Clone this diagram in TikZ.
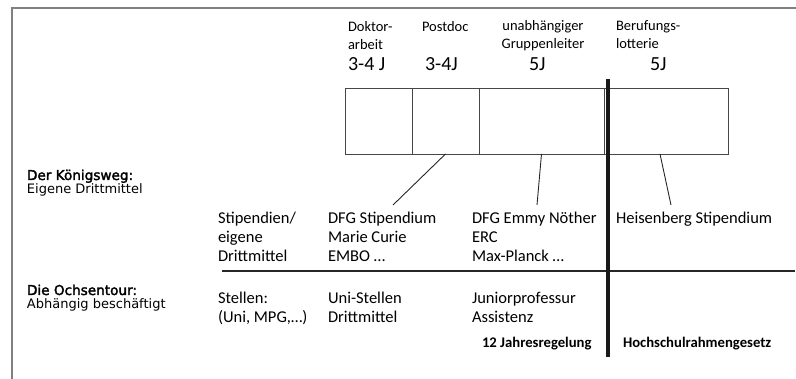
\documentclass[tikz,border=0pt]{standalone}
\usepackage{fontspec}
\setmainfont{Carlito}
\newfontfamily\verdfont{DejaVu Sans}
\newfontfamily\verdbfont{DejaVu Sans}[FakeBold=2.2]
\usetikzlibrary{positioning,calc}
\definecolor{framegray}{RGB}{128,128,128}
\definecolor{cellgray}{RGB}{70,70,70}

\begin{document}
\begin{tikzpicture}[x=1pt, y=-1pt, inner sep=0pt, outer sep=0pt,
cell/.style={draw=cellgray, line width=0.8pt, minimum height=66pt, anchor=north west},
head/.style={font=\fontsize{14.5}{18}\selectfont, align=left, anchor=base west},
dur/.style={font=\fontsize{20}{22}\selectfont, anchor=base west},
sidehead/.style={font=\verdbfont\fontsize{13.6}{14}\selectfont, anchor=base west},
side/.style={font=\verdfont\fontsize{13}{14}\selectfont, anchor=base west},
body/.style={font=\fontsize{16.5}{19}\selectfont, align=left, anchor=base west},
law/.style={font=\bfseries\fontsize{14.7}{16}\selectfont, anchor=base west},
link/.style={draw=black!85, line width=0.9pt}]
\useasboundingbox (0,0) rectangle (796,379);
% frame of the slide
\coordinate (fTR) at (796,8.5);
\coordinate (fTL) at (12,8.5);
\coordinate (fBL) at (12,379);
\draw[framegray, line width=2pt] (fTR) -- (fTL) -- (fBL);
% career phases (base = last line)
\node[head] (hDok) at (348,50) {Doktor-\\arbeit};
\node[head] (hPost) at (422,32) {Postdoc};
\node[head, align=center, anchor=base] (hGrp) at (543,49) {unabhängiger\\Gruppenleiter};
\node[head] (hBer) at (616,49) {Berufungs-\\lotterie};
\node[dur] (dDok) at (348,71) {3-4 J};
\node[dur] (dPost) at (425,71) {3-4J};
\node[dur] (dGrp) at (529,71) {5J};
\node[dur] (dBer) at (650,71) {5J};
\node[cell, minimum width=67pt] (cDok) at (345,88) {};
\node[cell, minimum width=67pt, right=0pt of cDok] (cPost) {};
\node[cell, minimum width=125pt, right=0pt of cPost] (cGrp) {};
\node[cell, minimum width=124pt, right=0pt of cGrp] (cBer) {};
% two ways
\node[sidehead] (kWeg) at (27,180) {Der Königsweg:};
\node[side] (kWegSub) at ($(kWeg.base west)+(0,14)$) {Eigene Drittmittel};
\node[sidehead] (oTour) at (27,295) {Die Ochsentour:};
\node[side] (oTourSub) at ($(oTour.base west)+(0,14)$) {Abhängig beschäftigt};
\node[body] (sStip) at (218,262) {Stipendien/\\eigene\\Drittmittel};
\node[body] (sDFG) at (328,262) {DFG Stipendium\\Marie Curie\\EMBO …};
\node[body] (sEmmy) at (472,262) {DFG Emmy Nöther\\ERC\\Max-Planck …};
\node[body] (sHeis) at (616,224) {Heisenberg Stipendium};
\node[body] (aStel) at (218,323) {Stellen:\\(Uni, MPG,…)};
\node[body] (aUni) at (328,323) {Uni-Stellen\\Drittmittel};
\node[body] (aJun) at (472,323) {Juniorprofessur\\Assistenz};
\node[law] (lZwoelf) at (482,348) {12 Jahresregelung};
\node[law] (lHRG) at (623,348) {Hochschulrahmengesetz};
% separators
\coordinate (sepL) at (222,271);
\coordinate (sepR) at (795,271);
\draw[line width=1.2pt, black!85] (sepL) -- (sepR);
\coordinate (cutTop) at (608,79);
\coordinate (cutBot) at (608,357);
\draw[line width=3.2pt, black!90] (cutTop) -- (cutBot);
% links
\coordinate (eDFG) at (393,205);
\coordinate (eEmmy) at (537,205);
\coordinate (eHeis) at (671,205);
\draw[link] (cPost.south) -- (eDFG);
\draw[link] (cGrp.south) -- (eEmmy);
\draw[link] ($(cBer.south)+(-6,0)$) -- (eHeis);
\end{tikzpicture}
\end{document}
